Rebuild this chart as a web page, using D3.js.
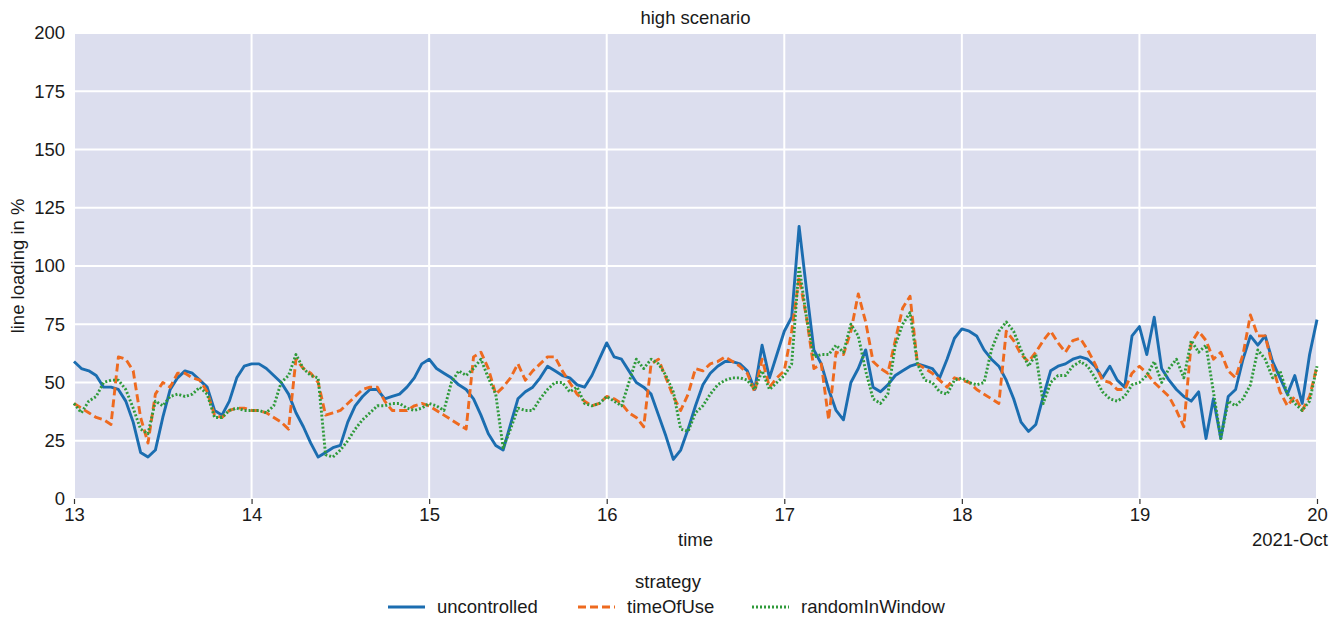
<!DOCTYPE html>
<html><head><meta charset="utf-8">
<script src="https://cdn.jsdelivr.net/npm/d3@7"></script>
<style>body{margin:0;background:#fff}svg text{font-family:"Liberation Sans",Arial,sans-serif;fill:#1a1a1a}</style>
</head><body><svg id="c" width="1342" height="621"></svg>
<script>
// hourly data starting 2021-10-13 00:00
const startDate = "2021-10-13T00:00:00Z";
const uncontrolled = [59,56,55,53,48,48,47,42,33,20, 18,21,35,47,52,55,54,51,48,38, 36,42,52,57,58,58,56,53,50,45,
 37,31,24,18,20,22,23,33,40,44, 47,47,43,44,45,48,52,58,60,56, 54,52,49,47,43,36,28,23,21,32,
 43,46,48,52,57,55,53,52,49,48, 53,60,67,61,60,55,50,48,45,36, 27,17,21,30,40,49,54,57,59,59,
 58,55,47,66,52,62,72,78,117,90, 64,58,47,38,34,50,56,64,48,46, 49,53,55,57,58,57,56,52,60,69,
 73,72,70,64,60,57,51,43,33,29, 32,44,55,57,58,60,61,60,57,52, 57,51,48,70,74,62,78,56,51,47,
 44,42,46,26,43,26,44,47,60,70, 66,70,59,52,45,53,41,62,77];
const timeOfUse = [41,39,37,35,34,32,61,60,55,35, 24,45,50,48,54,54,52,51,46,36, 35,38,39,39,38,38,37,35,33,30,
 60,56,54,50,36,37,38,41,44,47, 48,48,42,38,38,38,40,41,40,38, 36,34,32,30,61,63,56,45,48,52,
 58,51,55,58,61,61,55,50,45,42, 40,41,44,43,41,37,35,31,58,60, 52,44,38,45,56,55,58,59,61,59,
 57,54,46,60,48,52,55,72,95,78, 56,58,34,63,62,72,88,76,59,56, 54,68,82,87,58,56,54,51,48,52,
 51,50,47,45,43,41,72,68,62,59, 63,68,72,67,63,68,69,64,58,51, 50,47,47,54,57,54,50,47,44,38,
 31,67,72,68,60,63,55,52,62,79, 70,70,57,46,40,44,38,44,57];
const randomInWindow = [41,37,42,44,50,51,51,47,39,30, 28,42,40,44,45,44,45,48,45,35, 35,38,39,38,38,38,37,40,50,53,
 62,56,53,52,19,18,21,25,30,34, 37,40,40,41,41,39,38,39,41,40, 38,50,55,53,56,60,52,45,22,30,
 39,38,38,43,47,50,50,46,48,41, 40,41,44,42,40,50,60,56,60,58, 53,46,30,29,37,40,45,49,51,52,
 52,51,47,55,47,50,53,58,100,78, 61,62,62,66,63,75,70,55,43,41, 45,66,75,80,58,51,50,46,45,51,
 52,50,49,50,64,72,76,72,64,57, 62,41,50,53,53,57,59,57,52,46, 43,42,44,49,50,53,59,50,56,60,
 52,68,63,66,46,26,42,40,43,49, 64,60,52,55,45,41,38,42,57];
const seriesNames = ["uncontrolled","timeOfUse","randomInWindow"];
const yTicks = [0,25,50,75,100,125,150,175,200];
const xTickDays = [13,14,15,16,17,18,19,20];

const colors = {uncontrolled:"#1b6db0", timeOfUse:"#ee6a1f", randomInWindow:"#2f9a3a"};
const dashes = {uncontrolled:null, timeOfUse:"8,4", randomInWindow:"2,2"};

const svg = d3.select("#c");
const m = {l:74, r:1317, t:33, b:499};
const t0 = new Date(startDate);
const x = d3.scaleUtc().domain([t0, d3.utcHour.offset(t0, 168)]).range([m.l, m.r]);
const y = d3.scaleLinear().domain([0,200]).range([m.b, m.t]);

svg.append("rect").attr("x",m.l).attr("y",m.t).attr("width",m.r-m.l).attr("height",m.b-m.t).attr("fill","#dcdeee");

const xTickDates = xTickDays.map(d => new Date(Date.UTC(2021,9,d)));
svg.append("g").selectAll("line").data(yTicks).join("line")
  .attr("x1",m.l).attr("x2",m.r).attr("y1",d=>y(d)).attr("y2",d=>y(d))
  .attr("stroke","#fff").attr("stroke-width",2);
svg.append("g").selectAll("line").data(xTickDates).join("line")
  .attr("x1",d=>x(d)).attr("x2",d=>x(d)).attr("y1",m.t).attr("y2",m.b)
  .attr("stroke","#fff").attr("stroke-width",2);

// axes
const xAxis = d3.axisBottom(x).tickValues(xTickDates).tickFormat(d3.utcFormat("%-d")).tickSize(5).tickPadding(4);
const gx = svg.append("g").attr("transform",`translate(0,${m.b})`).call(xAxis);
gx.select(".domain").remove();
gx.selectAll(".tick line").attr("stroke","#333").attr("stroke-width",1.2);
gx.selectAll("text").attr("font-size",18.5).attr("fill","#1a1a1a");

const yAxis = d3.axisLeft(y).tickValues(yTicks).tickSize(0).tickPadding(9);
const gy = svg.append("g").attr("transform",`translate(${m.l},0)`).call(yAxis);
gy.select(".domain").remove();
gy.selectAll("text").attr("font-size",18.5).attr("fill","#1a1a1a");

// lines
const line = d3.line().x((d,i)=>x(d3.utcHour.offset(t0,i))).y(d=>y(d));
const dataMap = {uncontrolled, timeOfUse, randomInWindow};
seriesNames.forEach(n=>{
  svg.append("path").datum(dataMap[n]).attr("d",line)
    .attr("fill","none").attr("stroke",colors[n]).attr("stroke-width",2.9)
    .attr("stroke-linejoin","round")
    .attr("stroke-dasharray",dashes[n]);
});

// texts
svg.append("text").attr("x",(m.l+m.r)/2).attr("y",24).attr("text-anchor","middle").attr("font-size",18.5).text("high scenario");
svg.append("text").attr("x",(m.l+m.r)/2).attr("y",546).attr("text-anchor","middle").attr("font-size",18.5).text("time");
svg.append("text").attr("x",1328).attr("y",546).attr("text-anchor","end").attr("font-size",18.5).text("2021-Oct");
svg.append("text").attr("transform",`translate(24,${(m.t+m.b)/2}) rotate(-90)`).attr("text-anchor","middle").attr("font-size",18.5).text("line loading in %");

// legend
const lg = svg.append("g");
lg.append("text").attr("x",668).attr("y",588).attr("text-anchor","middle").attr("font-size",18.5).text("strategy");
const legX = [388, 578, 752];
seriesNames.forEach((n,i)=>{
  lg.append("line").attr("x1",legX[i]).attr("x2",legX[i]+37).attr("y1",607).attr("y2",607)
    .attr("stroke",colors[n]).attr("stroke-width",2.9).attr("stroke-dasharray",dashes[n]);
  lg.append("text").attr("x",legX[i]+49).attr("y",613).attr("font-size",18.5).text(n);
});
</script></body></html>
